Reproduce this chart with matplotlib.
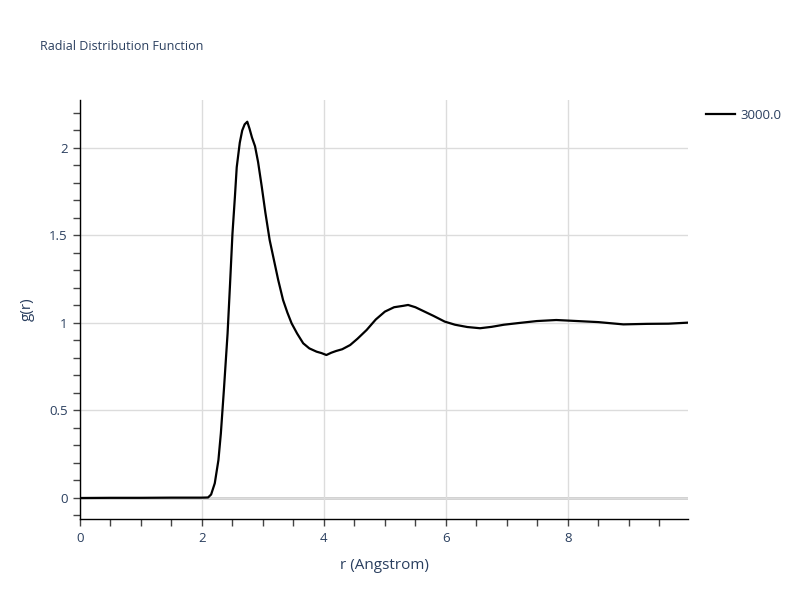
import matplotlib
matplotlib.use("Agg")
import matplotlib.pyplot as plt
from matplotlib.ticker import MultipleLocator, FormatStrFormatter

plt.rcParams['font.family'] = ['Open Sans', 'DejaVu Sans']

# g(r)
r = [0.0, 0.5, 1.0, 1.5, 2.0, 2.1, 2.15, 2.21, 2.27, 2.31, 2.36, 2.42, 2.46, 2.50,
     2.54, 2.57, 2.62, 2.66, 2.70, 2.743, 2.78, 2.82, 2.87, 2.92, 2.98, 3.04, 3.11,
     3.18, 3.25, 3.33, 3.40, 3.47, 3.56, 3.66, 3.76, 3.88, 3.96, 4.04, 4.12, 4.20,
     4.30, 4.43, 4.55, 4.70, 4.85, 5.00, 5.15, 5.30, 5.38, 5.50, 5.65, 5.80, 5.98,
     6.15, 6.35, 6.56, 6.75, 6.95, 7.20, 7.49, 7.81, 8.10, 8.50, 8.91, 9.30, 9.65, 9.97]
g = [0.0, 0.001, 0.001, 0.002, 0.002, 0.003, 0.02, 0.084, 0.217, 0.37, 0.62, 0.94, 1.22,
     1.51, 1.72, 1.89, 2.03, 2.10, 2.135, 2.150, 2.11, 2.06, 2.01, 1.92, 1.78, 1.63, 1.474,
     1.36, 1.246, 1.131, 1.06, 0.998, 0.94, 0.884, 0.855, 0.836, 0.828, 0.817, 0.83, 0.84,
     0.85, 0.874, 0.91, 0.96, 1.02, 1.065, 1.09, 1.098, 1.103, 1.09, 1.065, 1.04, 1.008,
     0.99, 0.977, 0.970, 0.978, 0.99, 1.0, 1.011, 1.017, 1.012, 1.005, 0.992, 0.995, 0.996, 1.002]

series_name = "3000.0"
text_col = "#2a3f5f"

fig = plt.figure(figsize=(8, 6), dpi=100)
ax = fig.add_axes([0.1, 0.135, 0.76, 0.6983])

ax.plot(r, g, color="black", lw=1.6, label=series_name, zorder=3)

ax.set_xlim(0, 9.97)
ax.set_ylim(-0.12, 2.274)

ax.xaxis.set_major_locator(MultipleLocator(2))
ax.xaxis.set_minor_locator(MultipleLocator(0.5))
ax.yaxis.set_major_locator(MultipleLocator(0.5))
ax.yaxis.set_minor_locator(MultipleLocator(0.1))
ax.xaxis.set_major_formatter(FormatStrFormatter("%g"))
ax.yaxis.set_major_formatter(FormatStrFormatter("%g"))

ax.grid(True, which="major", color="#dcdcdc", lw=1)
ax.axhline(0, color="#cccccc", lw=2, zorder=1)

for s in ["top", "right"]:
    ax.spines[s].set_visible(False)
for s in ["bottom", "left"]:
    ax.spines[s].set_color("black")
    ax.spines[s].set_linewidth(1)

ax.tick_params(axis="both", which="both", direction="out", length=5, width=1,
               color="#444444", labelcolor=text_col, labelsize=9.5, pad=4)

ax.set_xlabel("r (Angstrom)", color=text_col, fontsize=11, labelpad=10)
ax.set_ylabel("g(r)", color=text_col, fontsize=11, labelpad=10)

fig.text(0.05, 0.923, "Radial Distribution Function", color=text_col, fontsize=9,
         ha="left", va="center")

ax.legend(loc="upper left", bbox_to_anchor=(1.01, 1.007), frameon=False,
          fontsize=9.5, labelcolor=text_col, handlelength=2.2, handletextpad=0.4)

fig.savefig("out.png", dpi=100)
